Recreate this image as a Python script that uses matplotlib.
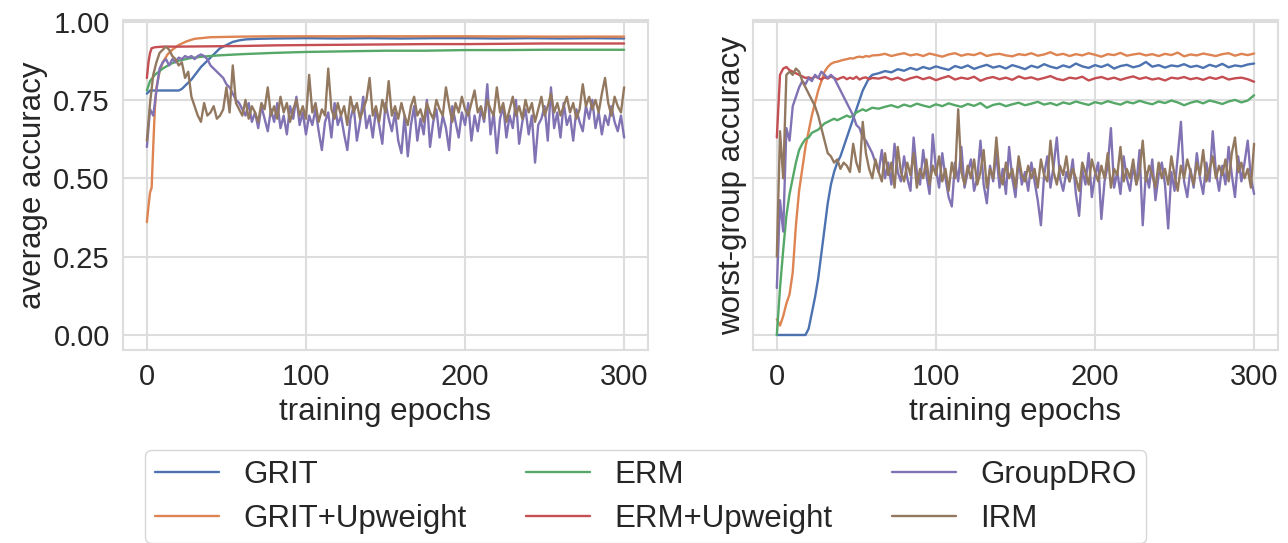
import numpy as np
import matplotlib
matplotlib.use("Agg")
import matplotlib.pyplot as plt
import seaborn as sns

sns.set_theme(style="whitegrid", palette="deep")
plt.rcParams["font.family"] = ["Liberation Sans", "DejaVu Sans"]

# --- Kurven: average accuracy (links) ---
avg_grit_ep = [0, 2, 6, 10, 14, 18, 20, 22, 25, 28, 31, 34, 37, 40, 43, 46, 50, 54, 58, 62,
               70, 80, 100, 120, 140, 160, 180, 200, 220, 240, 260, 280, 300]
avg_grit = [0.77, 0.78, 0.78, 0.78, 0.78, 0.78, 0.78, 0.785, 0.80, 0.815, 0.835, 0.855, 0.87,
            0.885, 0.90, 0.915, 0.925, 0.935, 0.94, 0.943, 0.945, 0.946, 0.947, 0.946, 0.947,
            0.946, 0.947, 0.947, 0.946, 0.947, 0.946, 0.947, 0.946]

avg_grit_up_ep = [0, 1, 2, 3, 4, 5, 6, 8, 10, 13, 16, 20, 25, 30, 40, 60, 80, 100, 150, 200, 250, 300]
avg_grit_up = [0.36, 0.41, 0.455, 0.47, 0.60, 0.72, 0.79, 0.84, 0.87, 0.895, 0.91, 0.925, 0.937,
               0.945, 0.95, 0.952, 0.953, 0.953, 0.953, 0.953, 0.952, 0.952]

avg_erm_ep = [0, 2, 5, 10, 15, 20, 27, 35, 45, 60, 80, 100, 125, 150, 175, 200, 225, 250, 275, 300]
avg_erm = [0.78, 0.81, 0.83, 0.85, 0.865, 0.875, 0.883, 0.888, 0.892, 0.896, 0.90, 0.903, 0.905,
           0.907, 0.907, 0.909, 0.909, 0.91, 0.91, 0.91]

avg_erm_up_ep = [0, 1, 2, 3, 5, 10, 20, 40, 60, 80, 100, 125, 150, 175, 200, 225, 250, 275, 300]
avg_erm_up = [0.82, 0.87, 0.90, 0.915, 0.918, 0.92, 0.92, 0.921, 0.922, 0.924, 0.925, 0.926,
              0.927, 0.928, 0.928, 0.929, 0.93, 0.93, 0.93]

# GroupDRO und IRM: jede zweite Epoche
noisy_ep = list(range(0, 301, 2))

avg_groupdro = [
    0.60, 0.72, 0.70, 0.78, 0.85, 0.87, 0.88, 0.86, 0.88, 0.87,
    0.885, 0.88, 0.89, 0.885, 0.89, 0.88, 0.89, 0.895, 0.89, 0.88,
    0.86, 0.85, 0.84, 0.83, 0.82, 0.80, 0.79, 0.77, 0.75, 0.74,
    0.72, 0.70, 0.74, 0.68, 0.71, 0.66, 0.73, 0.69, 0.65, 0.72,
    0.68, 0.74, 0.66, 0.70, 0.64, 0.73, 0.69, 0.76, 0.67, 0.71,
    0.64, 0.70, 0.67, 0.72, 0.65, 0.59, 0.68, 0.71, 0.63, 0.74,
    0.67, 0.70, 0.64, 0.59, 0.69, 0.73, 0.62, 0.68, 0.76, 0.66,
    0.70, 0.63, 0.72, 0.67, 0.61, 0.74, 0.69, 0.65, 0.71, 0.62,
    0.58, 0.70, 0.57, 0.67, 0.73, 0.62, 0.69, 0.64, 0.75, 0.60,
    0.68, 0.72, 0.63, 0.70, 0.66, 0.59, 0.73, 0.68, 0.63, 0.71,
    0.67, 0.74, 0.62, 0.70, 0.65, 0.72, 0.68, 0.80, 0.64, 0.71,
    0.58, 0.69, 0.73, 0.63, 0.70, 0.66, 0.75, 0.61, 0.68, 0.72,
    0.64, 0.70, 0.55, 0.67, 0.69, 0.73, 0.62, 0.79, 0.66, 0.71,
    0.63, 0.74, 0.67, 0.70, 0.62, 0.72, 0.68, 0.65, 0.73, 0.69,
    0.75, 0.66, 0.71, 0.64, 0.70, 0.67, 0.73, 0.68, 0.65, 0.70,
    0.63]

avg_irm = [
    0.62, 0.74, 0.83, 0.87, 0.90, 0.91, 0.92, 0.91, 0.89, 0.88,
    0.86, 0.87, 0.82, 0.84, 0.76, 0.73, 0.70, 0.68, 0.74, 0.70,
    0.71, 0.73, 0.69, 0.70, 0.72, 0.79, 0.71, 0.86, 0.74, 0.72,
    0.70, 0.75, 0.69, 0.73, 0.71, 0.68, 0.74, 0.72, 0.79, 0.70,
    0.73, 0.69, 0.76, 0.71, 0.74, 0.68, 0.72, 0.75, 0.70, 0.73,
    0.69, 0.83, 0.71, 0.74, 0.68, 0.72, 0.70, 0.85, 0.72, 0.69,
    0.74, 0.70, 0.73, 0.67, 0.76, 0.71, 0.74, 0.69, 0.72, 0.75,
    0.82, 0.70, 0.73, 0.68, 0.75, 0.71, 0.81, 0.70, 0.73, 0.69,
    0.74, 0.70, 0.67, 0.73, 0.76, 0.70, 0.72, 0.68, 0.74, 0.71,
    0.69, 0.75, 0.72, 0.70, 0.79, 0.73, 0.68, 0.74, 0.71, 0.76,
    0.72, 0.70, 0.74, 0.78, 0.71, 0.73, 0.69, 0.75, 0.72, 0.70,
    0.79, 0.71, 0.74, 0.68, 0.72, 0.76, 0.70, 0.73, 0.69, 0.75,
    0.71, 0.74, 0.68, 0.72, 0.76, 0.70, 0.73, 0.77, 0.71, 0.74,
    0.70, 0.73, 0.76, 0.71, 0.74, 0.69, 0.72, 0.80, 0.73, 0.76,
    0.72, 0.75, 0.71, 0.77, 0.82, 0.74, 0.70, 0.76, 0.73, 0.71,
    0.79]

# --- Kurven: worst-group accuracy (rechts) ---
wg_ep = list(range(0, 62, 2)) + list(range(64, 301, 4))

wg_grit = [
    0.0, 0.0, 0.0, 0.0, 0.0, 0.0, 0.0, 0.0, 0.0, 0.0,
    0.02, 0.07, 0.12, 0.18, 0.26, 0.34, 0.42, 0.48, 0.52, 0.55,
    0.57, 0.60, 0.63, 0.66, 0.69, 0.72, 0.75, 0.78, 0.80, 0.82, 0.83,
    0.835, 0.842, 0.838, 0.848, 0.843, 0.852, 0.846, 0.855, 0.849, 0.857,
    0.851, 0.846, 0.858, 0.852, 0.860, 0.849, 0.856, 0.862, 0.853, 0.858,
    0.850, 0.861, 0.855, 0.848, 0.859, 0.853, 0.864, 0.856, 0.851, 0.860,
    0.854, 0.866, 0.857, 0.852, 0.861, 0.855, 0.863, 0.850, 0.858, 0.862,
    0.854, 0.859, 0.871, 0.856, 0.861, 0.853, 0.860, 0.857, 0.864, 0.855,
    0.859, 0.852, 0.862, 0.856, 0.865, 0.854, 0.860, 0.857, 0.863, 0.866]

wg_grit_up = [
    0.05, 0.03, 0.06, 0.10, 0.13, 0.20, 0.35, 0.46, 0.53, 0.60,
    0.65, 0.70, 0.74, 0.78, 0.81, 0.84, 0.855, 0.865, 0.87, 0.872,
    0.875, 0.878, 0.88, 0.883, 0.882, 0.886, 0.888, 0.886, 0.89, 0.888, 0.892,
    0.893, 0.897, 0.890, 0.895, 0.899, 0.892, 0.896, 0.890, 0.898, 0.893,
    0.888, 0.895, 0.899, 0.891, 0.896, 0.893, 0.900, 0.890, 0.895, 0.897,
    0.892, 0.889, 0.896, 0.893, 0.899, 0.891, 0.895, 0.902, 0.893, 0.897,
    0.890, 0.896, 0.892, 0.899, 0.894, 0.888, 0.896, 0.893, 0.900, 0.891,
    0.895, 0.898, 0.892, 0.896, 0.890, 0.897, 0.893, 0.901, 0.889, 0.895,
    0.892, 0.898, 0.894, 0.890, 0.896, 0.899, 0.891, 0.897, 0.893, 0.898]

wg_erm = [
    0.0, 0.15, 0.27, 0.38, 0.45, 0.50, 0.55, 0.59, 0.61, 0.625,
    0.63, 0.645, 0.65, 0.655, 0.665, 0.675, 0.68, 0.685, 0.69, 0.685,
    0.69, 0.695, 0.70, 0.695, 0.70, 0.71, 0.715, 0.72, 0.715, 0.72, 0.725,
    0.722, 0.728, 0.733, 0.726, 0.735, 0.729, 0.738, 0.732, 0.727, 0.736,
    0.730, 0.739, 0.733, 0.728, 0.737, 0.731, 0.740, 0.725, 0.734, 0.738,
    0.730, 0.736, 0.741, 0.733, 0.738, 0.744, 0.735, 0.740, 0.733, 0.742,
    0.737, 0.745, 0.739, 0.734, 0.743, 0.738, 0.746, 0.740, 0.735, 0.744,
    0.739, 0.747, 0.741, 0.736, 0.745, 0.740, 0.748, 0.742, 0.733, 0.741,
    0.746, 0.739, 0.748, 0.743, 0.737, 0.745, 0.750, 0.742, 0.748, 0.765]

wg_erm_up = [
    0.63, 0.83, 0.85, 0.855, 0.845, 0.84, 0.835, 0.83, 0.825, 0.82,
    0.822, 0.818, 0.825, 0.82, 0.815, 0.822, 0.818, 0.825, 0.82, 0.815,
    0.82, 0.823, 0.816, 0.821, 0.817, 0.824, 0.815, 0.82, 0.822, 0.816, 0.82,
    0.818, 0.823, 0.815, 0.821, 0.812, 0.819, 0.824, 0.816, 0.822, 0.813,
    0.820, 0.826, 0.815, 0.821, 0.817, 0.824, 0.811, 0.819, 0.823, 0.816,
    0.821, 0.814, 0.825, 0.818, 0.822, 0.815, 0.820, 0.826, 0.817, 0.813,
    0.821, 0.818, 0.824, 0.812, 0.819, 0.823, 0.816, 0.821, 0.814, 0.820,
    0.825, 0.817, 0.822, 0.815, 0.819, 0.812, 0.821, 0.818, 0.823, 0.816,
    0.820, 0.814, 0.822, 0.817, 0.824, 0.815, 0.819, 0.821, 0.816, 0.808]

wg_groupdro = [
    0.15, 0.43, 0.33, 0.66, 0.62, 0.73, 0.76, 0.79, 0.81, 0.80,
    0.82, 0.81, 0.83, 0.82, 0.84, 0.83, 0.82, 0.83, 0.82, 0.80,
    0.78, 0.76, 0.74, 0.72, 0.70, 0.67, 0.66, 0.63, 0.62, 0.60,
    0.58, 0.55, 0.52, 0.59, 0.50, 0.55, 0.48, 0.61, 0.52, 0.49,
    0.57, 0.50, 0.46, 0.63, 0.52, 0.48, 0.59, 0.51, 0.45, 0.64,
    0.53, 0.47, 0.58, 0.50, 0.44, 0.41, 0.55, 0.49, 0.60, 0.47,
    0.52, 0.56, 0.46, 0.50, 0.62, 0.48, 0.42, 0.54, 0.49, 0.58,
    0.47, 0.53, 0.45, 0.60, 0.50, 0.44, 0.56, 0.48, 0.52, 0.46,
    0.55, 0.49, 0.43, 0.35, 0.51, 0.57, 0.47, 0.54, 0.63, 0.50,
    0.46, 0.52, 0.49, 0.56, 0.45, 0.38, 0.53, 0.48, 0.58, 0.44,
    0.51, 0.55, 0.37, 0.49, 0.54, 0.66, 0.47, 0.52, 0.45, 0.57,
    0.50, 0.46, 0.54, 0.48, 0.59, 0.35, 0.52, 0.47, 0.56, 0.43,
    0.51, 0.55, 0.48, 0.34, 0.52, 0.46, 0.57, 0.68, 0.49, 0.44,
    0.53, 0.47, 0.58, 0.50, 0.45, 0.55, 0.49, 0.65, 0.52, 0.46,
    0.54, 0.48, 0.60, 0.51, 0.44, 0.57, 0.49, 0.55, 0.62, 0.50,
    0.45]

wg_irm = [
    0.25, 0.65, 0.50, 0.83, 0.84, 0.83, 0.85, 0.84, 0.81, 0.79,
    0.77, 0.75, 0.73, 0.70, 0.66, 0.62, 0.58, 0.57, 0.55, 0.56,
    0.53, 0.55, 0.54, 0.52, 0.61, 0.55, 0.52, 0.68, 0.58, 0.53,
    0.50, 0.56, 0.52, 0.49, 0.58, 0.51, 0.55, 0.47, 0.60, 0.52,
    0.49, 0.55, 0.51, 0.58, 0.47, 0.53, 0.50, 0.56, 0.48, 0.54,
    0.51, 0.57, 0.49, 0.53, 0.46, 0.55, 0.50, 0.72, 0.52, 0.48,
    0.54, 0.50, 0.56, 0.48, 0.52, 0.59, 0.47, 0.53, 0.50, 0.63,
    0.51, 0.48, 0.55, 0.50, 0.53, 0.47, 0.57, 0.51, 0.49, 0.54,
    0.50, 0.53, 0.47, 0.56, 0.51, 0.49, 0.62, 0.52, 0.48, 0.54,
    0.51, 0.57, 0.49, 0.53, 0.50, 0.46, 0.55, 0.52, 0.48, 0.56,
    0.52, 0.49, 0.54, 0.50, 0.58, 0.47, 0.53, 0.51, 0.60, 0.49,
    0.53, 0.50, 0.56, 0.48, 0.52, 0.62, 0.49, 0.54, 0.51, 0.47,
    0.55, 0.50, 0.53, 0.48, 0.57, 0.51, 0.46, 0.54, 0.50, 0.56,
    0.52, 0.48, 0.55, 0.51, 0.59, 0.49, 0.53, 0.57, 0.50, 0.54,
    0.51, 0.56, 0.49, 0.58, 0.63, 0.52, 0.55, 0.50, 0.53, 0.47,
    0.61]

methods = ["GRIT", "GRIT+Upweight", "ERM", "ERM+Upweight", "GroupDRO", "IRM"]
colors = sns.color_palette("deep")

left_curves = [
    (avg_grit_ep, avg_grit), (avg_grit_up_ep, avg_grit_up),
    (avg_erm_ep, avg_erm), (avg_erm_up_ep, avg_erm_up),
    (noisy_ep, avg_groupdro), (noisy_ep, avg_irm),
]
right_curves = [
    (wg_ep, wg_grit), (wg_ep, wg_grit_up),
    (wg_ep, wg_erm), (wg_ep, wg_erm_up),
    (noisy_ep, wg_groupdro), (noisy_ep, wg_irm),
]

fig = plt.figure(figsize=(12.88, 5.43), dpi=100)
ax1 = fig.add_axes([0.0955, 0.3554, 0.4076, 0.6078])
ax2 = fig.add_axes([0.5846, 0.3554, 0.4076, 0.6078], sharey=ax1)

for ax, curves, ylab in [(ax1, left_curves, "average accuracy"),
                         (ax2, right_curves, "worst-group accuracy")]:
    for (ep, vals), name, col in zip(curves, methods, colors):
        ax.plot(ep, vals, color=col, lw=1.7, label=name)
    ax.set_xlim(-15, 315)
    ax.set_xticks([0, 100, 200, 300])
    ax.set_xlabel("training epochs", fontsize=22.5, color="#262626")
    ax.set_ylabel(ylab, fontsize=22.5, color="#262626")
    ax.tick_params(labelsize=21, colors="#262626")
    ax.grid(color="#dddddd", lw=1.5)
    for sp in ax.spines.values():
        sp.set_color("#dddddd")
        sp.set_linewidth(1.5)

ax1.set_ylim(-0.048, 1.005)
ax1.set_yticks([0, 0.25, 0.5, 0.75, 1.0])
ax1.set_yticklabels(["0.00", "0.25", "0.50", "0.75", "1.00"])
plt.setp(ax2.get_yticklabels(), visible=False)

# Legende unter beiden Plots
handles, labels = ax1.get_legend_handles_labels()
leg = fig.legend(handles, labels, loc="upper center", bbox_to_anchor=(0.5012, 0.171),
                 ncol=3, fontsize=22.5, handlelength=2.05, handletextpad=0.78,
                 columnspacing=1.9, labelspacing=0.45, borderpad=0.3,
                 borderaxespad=0.0, frameon=True)
leg.get_frame().set_edgecolor("#cccccc")
for t in leg.get_texts():
    t.set_color("#262626")

fig.savefig("out.png", dpi=100)
